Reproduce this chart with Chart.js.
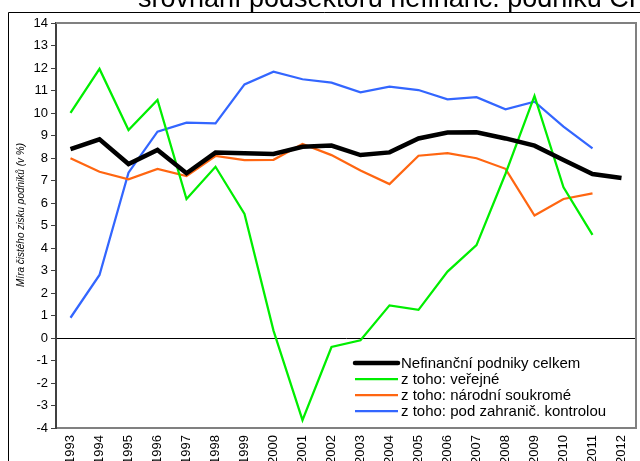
<!DOCTYPE html>
<html><head><meta charset="utf-8">
<script src="https://cdn.jsdelivr.net/npm/chart.js@4"></script>
<style>html,body{margin:0;padding:0;background:#fff;overflow:hidden}</style>
</head><body>
<canvas id="c" width="640" height="461"></canvas>
<script>
const years = ["1993","1994","1995","1996","1997","1998","1999","2000","2001","2002","2003","2004","2005","2006","2007","2008","2009","2010","2011","2012"];
const seriesNames = ["Nefinanční podniky celkem","z toho: veřejné","z toho: národní soukromé","z toho: pod zahranič. kontrolou"];
const total   = [8.39,8.83,7.73,8.36,7.32,8.24,8.21,8.18,8.50,8.55,8.13,8.25,8.87,9.13,9.14,8.87,8.55,7.91,7.29,7.11];
const verejne = [10.01,11.96,9.24,10.58,6.18,7.61,5.51,0.33,-3.65,-0.40,-0.10,1.45,1.25,2.95,4.13,7.30,10.76,6.70,4.58,null];
const narodni = [7.99,7.39,7.05,7.51,7.20,8.09,7.91,7.92,8.62,8.13,7.44,6.84,8.10,8.22,7.99,7.52,5.44,6.18,6.43,null];
const zahran  = [0.90,2.80,7.35,9.17,9.57,9.54,11.27,11.84,11.50,11.35,10.92,11.17,11.02,10.61,10.70,10.16,10.50,9.39,8.43,null];
const yTicks = {min:-4, max:14, step:1};
const chartTitle = "srovnání podsektorů nefinanč. podniků ČR";
const yTitle = "Míra čistého zisku podniků (v %)";

const FONT = "'Liberation Sans', Arial, sans-serif";

const deco = {
  id: 'deco',
  afterDraw(chart) {
    const ctx = chart.ctx, a = chart.chartArea;
    ctx.save();
    // plot area border (top, right)
    ctx.strokeStyle = '#808080'; ctx.lineWidth = 2;
    ctx.beginPath();
    ctx.moveTo(a.left, a.top); ctx.lineTo(a.right, a.top); ctx.lineTo(a.right, a.bottom);
    ctx.stroke();
    // outer frame
    ctx.strokeStyle = '#000'; ctx.lineWidth = 1;
    ctx.beginPath();
    ctx.moveTo(8.5, 470); ctx.lineTo(8.5, 12.5); ctx.lineTo(650, 12.5);
    ctx.stroke();
    // clipped title
    ctx.fillStyle = '#000';
    ctx.font = "27px " + FONT;
    ctx.textAlign = 'left'; ctx.textBaseline = 'alphabetic';
    ctx.fillText(chartTitle, 138, 7);
    // y title
    ctx.save();
    ctx.translate(21, 215);
    ctx.rotate(-Math.PI/2);
    ctx.font = "italic 10px " + FONT;
    ctx.textAlign = 'center'; ctx.textBaseline = 'middle';
    ctx.fillText(yTitle, 0, 0);
    ctx.restore();
    // legend
    const rows = [363, 379, 395, 411];
    ctx.font = "15px " + FONT;
    ctx.textAlign = 'left'; ctx.textBaseline = 'middle';
    chart.data.datasets.forEach((ds, i) => {
      const y = rows[i];
      ctx.strokeStyle = ds.borderColor; ctx.lineWidth = ds.borderWidth;
      ctx.lineCap = i === 0 ? 'round' : 'butt';
      ctx.beginPath(); ctx.moveTo(355, y); ctx.lineTo(398, y); ctx.stroke();
      ctx.fillStyle = '#000';
      ctx.fillText(ds.label, 401, y + 1);
    });
    ctx.restore();
  }
};

new Chart(document.getElementById('c'), {
  type: 'line',
  data: {
    labels: years,
    datasets: [
      {label: seriesNames[0], data: total,   borderColor: '#000000', borderWidth: 4.5, order: 0},
      {label: seriesNames[1], data: verejne, borderColor: '#00ee00', borderWidth: 2.25, order: 1},
      {label: seriesNames[2], data: narodni, borderColor: '#ff6611', borderWidth: 2.25, order: 2},
      {label: seriesNames[3], data: zahran,  borderColor: '#3366ff', borderWidth: 2.25, order: 3}
    ].map(d => Object.assign(d, {pointRadius: 0, tension: 0, fill: false, spanGaps: false}))
  },
  options: {
    responsive: false, animation: false, devicePixelRatio: 1,
    layout: {padding: {top: 23, right: 4, left: 0, bottom: 0}},
    plugins: {legend: {display: false}, tooltip: {enabled: false}, title: {display: false}},
    scales: {
      x: {
        type: 'category', offset: true,
        grid: {display: true, drawOnChartArea: false, drawTicks: false},
        border: {display: true, color: '#808080', width: 2},
        ticks: {minRotation: 90, maxRotation: 90, autoSkip: false, padding: 7, color: '#000', font: {family: FONT, size: 13}},
        afterFit: s => { s.height = 33; s.paddingLeft = 0; s.paddingRight = 0; }
      },
      y: {
        min: yTicks.min, max: yTicks.max,
        ticks: {stepSize: yTicks.step, color: '#000', padding: 3, font: {family: FONT, size: 13}},
        grid: {drawOnChartArea: true, color: c => (c.tick && c.tick.value === 0) ? '#000' : 'rgba(0,0,0,0)', lineWidth: 1, tickColor: '#404040', tickLength: 5},
        border: {display: true, color: '#404040', width: 2},
        afterFit: s => { s.width = 56; }
      }
    }
  },
  plugins: [deco]
});
</script>
</body></html>
